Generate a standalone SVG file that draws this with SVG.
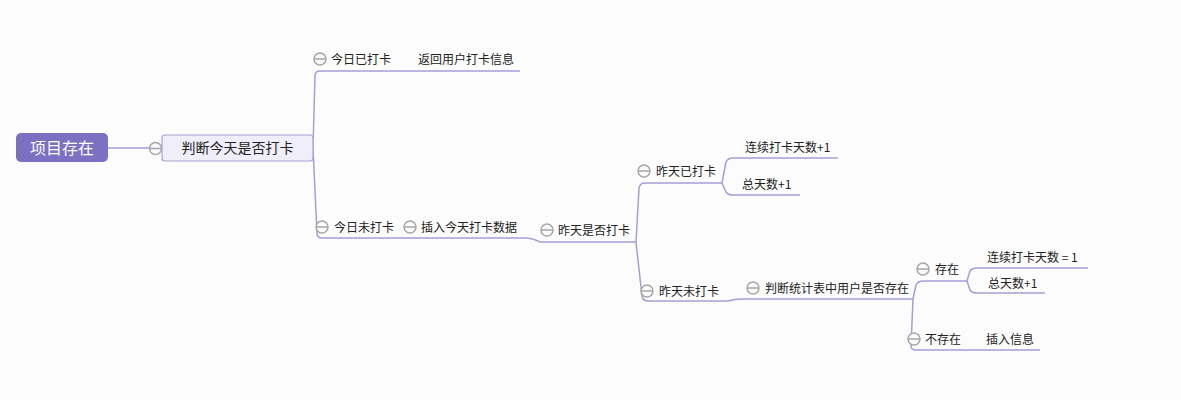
<svg xmlns="http://www.w3.org/2000/svg" width="1181" height="400" viewBox="0 0 1181 400">
<defs>
<style>
.ln{fill:none;stroke:#a79dd8;stroke-width:1.5;stroke-linejoin:round}
.t{font-family:"Noto Sans CJK SC","Liberation Sans",sans-serif;font-size:12px;fill:#222}
.c{fill:#fafafa;stroke:#a6a6a6;stroke-width:1.5}
.cl{stroke:#a6a6a6;stroke-width:1.5}
</style>
<symbol id="col" viewBox="-7 -7 14 14" overflow="visible">
<circle class="c" cx="0" cy="0" r="6"/>
<line class="cl" x1="-5.5" y1="0" x2="5.5" y2="0"/>
</symbol>
</defs>
<rect width="1181" height="400" fill="#fcfcfc"/>
<g id="connectors">
<path class="ln" d="M108,148 L162,148"/>
<path class="ln" d="M313,148 L315,76 Q315,71 320,71 L520,71"/>
<path class="ln" d="M313,148 L317,233 Q317,238 322,238 L525,238 Q532,238 540,242 L636,242"/>
<path class="ln" d="M636,242 L639,188 Q640,183 645,183 L722,183"/>
<path class="ln" d="M636,242 L642,296 Q643,301 648,301 L728,301 Q735,299 742,299 L913,299"/>
<path class="ln" d="M722,183 L726,162 Q728,158 733,158 L838,158"/>
<path class="ln" d="M722,183 L726,192 Q728,195 733,195 L800,195"/>
<path class="ln" d="M913,299 L916,285 Q918,281 923,281 L967,281"/>
<path class="ln" d="M913,299 L911,346 Q911,350 916,350 L1040,350"/>
<path class="ln" d="M967,281 L970,271 Q972,268 977,268 L1088,268"/>
<path class="ln" d="M967,281 L970,290 Q972,293 977,293 L1045,293"/>
</g>
<g id="root">
<rect x="16" y="133" width="92" height="29" rx="5" fill="#7b70c2"/>
<text x="62" y="153.5" text-anchor="middle" style="font-family:'Noto Sans CJK SC','Liberation Sans',sans-serif;font-size:16px;fill:#fff">项目存在</text>
</g>
<g id="n-judge-today">
<use href="#col" x="148.5" y="141.5" width="14" height="14"/>
<rect x="162" y="135" width="151" height="26" rx="3" fill="#f0eef9" stroke="#aaa2d8" stroke-width="1.2"/>
<text x="237.5" y="153" text-anchor="middle" class="t" style="font-size:14px">判断今天是否打卡</text>
</g>
<g id="n-today-done">
<use href="#col" x="313" y="52" width="14" height="14"/>
<text x="331" y="63.5" class="t">今日已打卡</text>
</g>
<g id="n-return-info">
<text x="418" y="63.5" class="t">返回用户打卡信息</text>
</g>
<g id="n-today-not">
<use href="#col" x="315" y="220" width="14" height="14"/>
<text x="334" y="231.5" class="t">今日未打卡</text>
</g>
<g id="n-insert-today">
<use href="#col" x="403" y="220" width="14" height="14"/>
<text x="421" y="231.5" class="t">插入今天打卡数据</text>
</g>
<g id="n-yesterday-q">
<use href="#col" x="540" y="223" width="14" height="14"/>
<text x="558" y="235" class="t">昨天是否打卡</text>
</g>
<g id="n-yesterday-done">
<use href="#col" x="637" y="164" width="14" height="14"/>
<text x="656" y="175.5" class="t">昨天已打卡</text>
</g>
<g id="n-streak-plus">
<text x="745" y="152" class="t">连续打卡天数+1</text>
</g>
<g id="n-total-plus-a">
<text x="742" y="188.5" class="t">总天数+1</text>
</g>
<g id="n-yesterday-not">
<use href="#col" x="640" y="284" width="14" height="14"/>
<text x="659" y="295.5" class="t">昨天未打卡</text>
</g>
<g id="n-judge-user">
<use href="#col" x="746" y="281" width="14" height="14"/>
<text x="765" y="292.5" class="t">判断统计表中用户是否存在</text>
</g>
<g id="n-exists">
<use href="#col" x="916" y="262" width="14" height="14"/>
<text x="935" y="273.5" class="t">存在</text>
</g>
<g id="n-streak-one">
<text x="987" y="261.5" class="t">连续打卡天数 = 1</text>
</g>
<g id="n-total-plus-b">
<text x="988" y="287.5" class="t">总天数+1</text>
</g>
<g id="n-not-exists">
<use href="#col" x="907" y="332" width="14" height="14"/>
<text x="925" y="343.5" class="t">不存在</text>
</g>
<g id="n-insert-info">
<text x="986" y="343.5" class="t">插入信息</text>
</g>
</svg>
